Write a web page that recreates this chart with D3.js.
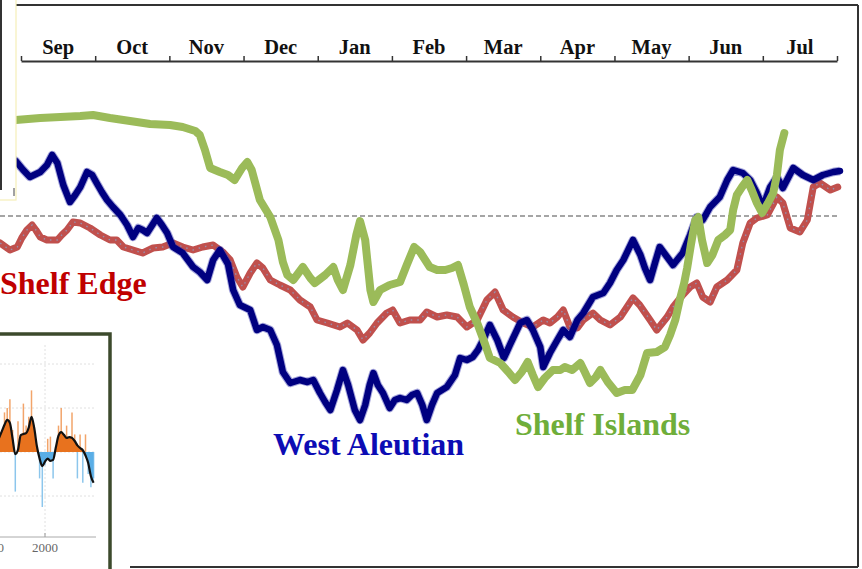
<!DOCTYPE html>
<html><head><meta charset="utf-8">
<script src="https://cdn.jsdelivr.net/npm/d3@7"></script>
<style>body{margin:0;background:#fff}svg{display:block}</style>
</head><body>
<svg id="c" width="862" height="569"></svg>
<script>
// ---- data (x in months since 1 Sep, y = anomaly units; 0 = dashed reference) ----
const months = ["Sep","Oct","Nov","Dec","Jan","Feb","Mar","Apr","May","Jun","Jul"];
const monthTicks = [0,1,2,3,4,5,6,7,8,9,10,11];
const seriesNames = ["Shelf Edge","West Aleutian","Shelf Islands"];

const shelfEdge = [[-0.28,-2.7],[-0.15,-3.4],[-0.05,-3.1],[0.01,-2.2],[0.08,-1.4],[0.15,-0.9],[0.20,-1.4],[0.26,-2.1],[0.35,-2.4],[0.49,-2.4],[0.55,-1.9],[0.62,-1.4],[0.70,-0.6],[0.80,-0.7],[0.93,-1.2],[1.07,-1.9],[1.20,-2.4],[1.29,-2.4],[1.38,-3.1],[1.51,-3.4],[1.64,-3.7],[1.78,-3.2],[1.91,-3.1],[2.05,-2.7],[2.18,-3.1],[2.32,-3.4],[2.45,-3.1],[2.59,-2.9],[2.72,-3.6],[2.82,-4.4],[2.91,-6.1],[2.99,-7.1],[3.09,-5.7],[3.18,-4.7],[3.26,-5.2],[3.36,-6.4],[3.49,-6.9],[3.63,-7.4],[3.76,-8.4],[3.90,-9.1],[3.99,-10.4],[4.13,-10.7],[4.30,-11.1],[4.40,-10.7],[4.53,-11.4],[4.61,-12.4],[4.70,-11.7],[4.80,-10.7],[4.93,-9.7],[5.01,-9.4],[5.11,-10.7],[5.24,-10.4],[5.38,-10.4],[5.47,-9.6],[5.61,-10.1],[5.74,-9.9],[5.88,-10.1],[6.01,-11.1],[6.15,-10.4],[6.28,-8.4],[6.39,-7.6],[6.50,-9.4],[6.63,-10.1],[6.77,-10.7],[6.90,-11.1],[7.04,-10.4],[7.13,-10.7],[7.23,-10.1],[7.31,-9.4],[7.40,-11.1],[7.50,-11.2],[7.58,-10.4],[7.71,-9.7],[7.81,-10.4],[7.94,-10.9],[8.08,-10.1],[8.25,-8.2],[8.34,-8.9],[8.48,-10.4],[8.57,-11.4],[8.71,-10.1],[8.79,-9.1],[8.92,-7.9],[9.02,-7.1],[9.11,-6.7],[9.19,-8.1],[9.29,-8.6],[9.38,-7.1],[9.52,-6.4],[9.65,-5.4],[9.73,-2.7],[9.83,-0.7],[9.92,-0.2],[10.06,0.1],[10.19,1.9],[10.27,1.3],[10.37,-1.2],[10.50,-1.6],[10.60,-0.4],[10.68,2.9],[10.77,3.3],[10.91,2.6],[11.01,2.9]];

const westAleutian = [[-0.28,6.4],[-0.07,5.5],[0.03,4.6],[0.12,3.9],[0.26,4.4],[0.35,5.1],[0.42,6.1],[0.49,5.3],[0.57,3.1],[0.66,1.4],[0.73,2.1],[0.80,2.9],[0.89,4.4],[0.96,4.1],[1.02,3.3],[1.09,2.4],[1.16,1.6],[1.24,0.9],[1.34,0.1],[1.43,-0.9],[1.51,-2.1],[1.58,-1.2],[1.64,-1.4],[1.70,-1.7],[1.77,-0.9],[1.83,-0.2],[1.90,-0.9],[1.97,-1.7],[2.05,-3.1],[2.18,-3.7],[2.32,-5.1],[2.41,-5.6],[2.51,-6.4],[2.59,-4.4],[2.68,-3.4],[2.79,-4.8],[2.86,-7.4],[2.95,-8.9],[3.09,-9.4],[3.18,-11.4],[3.26,-11.1],[3.36,-11.4],[3.45,-12.9],[3.53,-15.6],[3.63,-16.7],[3.76,-16.4],[3.86,-16.6],[3.94,-16.4],[4.03,-17.7],[4.10,-18.6],[4.17,-19.4],[4.26,-17.4],[4.34,-15.4],[4.41,-16.9],[4.50,-19.4],[4.57,-20.4],[4.64,-18.9],[4.70,-16.9],[4.75,-15.7],[4.81,-16.9],[4.88,-17.7],[4.97,-19.2],[5.04,-18.4],[5.11,-18.2],[5.20,-18.4],[5.27,-17.9],[5.34,-17.7],[5.41,-18.9],[5.47,-20.4],[5.54,-18.9],[5.61,-17.7],[5.74,-17.1],[5.85,-15.9],[5.92,-14.2],[6.01,-14.4],[6.09,-14.1],[6.16,-13.4],[6.23,-12.4],[6.32,-10.9],[6.42,-12.4],[6.51,-14.2],[6.59,-12.9],[6.73,-10.7],[6.82,-10.4],[6.90,-11.4],[7.00,-13.1],[7.04,-15.1],[7.13,-13.7],[7.23,-12.4],[7.31,-11.4],[7.40,-12.1],[7.50,-10.4],[7.58,-9.7],[7.71,-8.1],[7.85,-7.7],[7.94,-6.7],[8.03,-5.4],[8.12,-4.4],[8.25,-2.4],[8.35,-3.9],[8.41,-5.2],[8.48,-6.4],[8.55,-4.6],[8.61,-3.1],[8.71,-4.1],[8.79,-4.9],[8.92,-3.7],[9.02,-1.9],[9.11,-0.1],[9.19,-0.4],[9.29,0.9],[9.42,1.9],[9.52,3.6],[9.60,4.6],[9.73,4.3],[9.83,3.6],[9.92,2.3],[10.00,0.9],[10.10,2.9],[10.19,3.9],[10.27,2.8],[10.34,3.8],[10.41,4.8],[10.54,4.1],[10.68,3.6],[10.81,4.1],[10.95,4.4],[11.04,4.5]];

const shelfIslands = [[-0.28,9.7],[-0.07,9.6],[0.26,9.8],[0.53,9.9],[0.80,10.0],[0.97,10.1],[1.20,9.8],[1.47,9.5],[1.74,9.2],[2.01,9.1],[2.18,8.9],[2.35,8.5],[2.41,8.1],[2.48,6.6],[2.55,4.8],[2.68,4.4],[2.79,4.1],[2.88,3.6],[2.98,4.8],[3.05,5.4],[3.11,4.6],[3.22,1.6],[3.36,-0.1],[3.47,-2.4],[3.53,-4.6],[3.59,-5.9],[3.67,-6.4],[3.80,-5.1],[3.90,-6.2],[3.96,-6.7],[4.10,-5.9],[4.21,-5.1],[4.27,-6.4],[4.34,-7.4],[4.44,-4.9],[4.52,-1.9],[4.57,-0.5],[4.64,-2.4],[4.71,-7.4],[4.75,-8.6],[4.84,-7.4],[4.97,-6.9],[5.11,-6.6],[5.20,-4.9],[5.30,-3.1],[5.38,-3.6],[5.51,-5.1],[5.61,-5.4],[5.72,-5.4],[5.81,-5.2],[5.89,-4.9],[5.97,-6.9],[6.05,-9.1],[6.16,-10.9],[6.26,-12.9],[6.32,-14.2],[6.46,-14.7],[6.57,-15.6],[6.66,-16.4],[6.75,-15.6],[6.83,-14.6],[6.90,-15.9],[6.97,-17.1],[7.06,-16.2],[7.17,-15.4],[7.27,-15.4],[7.33,-15.1],[7.43,-15.4],[7.54,-14.7],[7.60,-15.6],[7.67,-16.7],[7.75,-16.1],[7.81,-15.4],[7.91,-16.6],[8.03,-17.7],[8.14,-17.4],[8.24,-17.4],[8.35,-15.9],[8.44,-13.7],[8.57,-13.6],[8.68,-13.1],[8.75,-11.9],[8.82,-10.4],[8.88,-8.4],[8.94,-6.7],[8.98,-5.2],[9.03,-2.9],[9.09,-0.4],[9.13,-0.1],[9.18,-2.4],[9.25,-4.7],[9.32,-3.9],[9.40,-2.4],[9.49,-1.9],[9.56,-1.4],[9.60,0.6],[9.65,2.1],[9.72,2.9],[9.79,3.6],[9.85,2.6],[9.92,1.3],[9.99,0.3],[10.07,1.3],[10.14,2.3],[10.19,4.1],[10.23,6.6],[10.29,8.3]];

// inset (annual index, half-year samples from 1991.5)
const insetStart = 1991.5;
const insetRaw = [-0.5,0.5,0.9,1.0,1.2,0.5,-0.9,0.7,0.4,1.1,0.6,0.8,1.4,0.6,0.1,-0.6,-1.25,-0.3,0.3,0.35,-0.6,0.1,0.6,1.0,0.4,0.6,0.3,0.9,0.4,-0.6,0.4,-0.7,0.4,-0.5,-0.8,-0.6];
const insetSmooth = [0.32,0.47,0.62,0.73,0.66,0.3,-0.05,0.05,0.38,0.41,0.43,0.56,0.8,0.55,0.13,-0.15,-0.32,-0.22,-0.15,-0.2,-0.18,0.1,0.37,0.45,0.39,0.32,0.34,0.32,0.25,0.15,0.09,0.04,-0.08,-0.25,-0.55,-0.7];
const insetYearTicks = [1990, 2000];
const insetGrid = [-1, 0, 1, 2];

// ---- drawing ----
const svg = d3.select("#c");
const serif = "'Liberation Serif','Times New Roman',serif";
const x = d3.scaleLinear().domain([0, 11]).range([21, 837]);
const y = d3.scaleLinear().domain([-35, 15]).range([566, 66]);

// frame
svg.append("line").attr("x1",16).attr("x2",858).attr("y1",5).attr("y2",5).attr("stroke","#333").attr("stroke-width",2);
svg.append("line").attr("x1",858).attr("x2",858).attr("y1",5).attr("y2",567).attr("stroke","#333").attr("stroke-width",2);
svg.append("line").attr("x1",130).attr("x2",858).attr("y1",567).attr("y2",567).attr("stroke","#333").attr("stroke-width",2);

// month axis
const axis = svg.append("g").attr("transform","translate(0,61)")
  .call(d3.axisTop(x).tickValues(monthTicks).tickSize(5).tickSizeOuter(0).tickFormat(""));
axis.select(".domain").attr("stroke","#333").attr("stroke-width",2);
axis.selectAll(".tick line").attr("stroke","#333").attr("stroke-width",1.5);
svg.append("g").selectAll("text").data(months).join("text")
  .attr("x",(d,i)=>x(i+0.5)).attr("y",54).attr("text-anchor","middle")
  .attr("font-family",serif).attr("font-weight","bold").attr("font-size",20.5)
  .attr("fill","#111").text(d=>d);

// reference dashed line
svg.append("line").attr("x1",0).attr("x2",x(11)).attr("y1",y(0)).attr("y2",y(0))
  .attr("stroke","#888").attr("stroke-width",1.3).attr("stroke-dasharray","5,3");

const line = d3.line().x(d=>x(d[0])).y(d=>y(d[1]));
// Shelf Edge (red)
svg.append("path").datum(shelfEdge).attr("d",line).attr("fill","none")
  .attr("stroke","#c0504d").attr("stroke-width",7).attr("stroke-linejoin","round").attr("stroke-linecap","round");
svg.append("path").datum(shelfEdge).attr("d",line).attr("fill","none")
  .attr("stroke","#8c9fc4").attr("stroke-width",1.4).attr("stroke-dasharray","1.5,5").attr("opacity",0.8);
// West Aleutian (blue)
svg.append("path").datum(westAleutian).attr("d",line).attr("fill","none")
  .attr("stroke","#3a3ab0").attr("stroke-width",8.5).attr("stroke-linejoin","round").attr("opacity",0.45);
svg.append("path").datum(westAleutian).attr("d",line).attr("fill","none")
  .attr("stroke","#000080").attr("stroke-width",6.5).attr("stroke-linejoin","round").attr("stroke-linecap","round");
// Shelf Islands (green)
svg.append("path").datum(shelfIslands).attr("d",line).attr("fill","none")
  .attr("stroke","#9bbb59").attr("stroke-width",8).attr("stroke-linejoin","round").attr("stroke-linecap","round");

// series labels
const labels = [
  {t:seriesNames[0], x:0, y:294, c:"#c00000"},
  {t:seriesNames[1], x:273, y:455, c:"#0c0cb4"},
  {t:seriesNames[2], x:515, y:435, c:"#6fae3a"}
];
svg.append("g").selectAll("text").data(labels).join("text")
  .attr("x",d=>d.x).attr("y",d=>d.y).attr("fill",d=>d.c)
  .attr("font-family",serif).attr("font-weight","bold").attr("font-size",32).text(d=>d.t);

// top-left overlapping panel
svg.append("rect").attr("x",-10).attr("y",-10).attr("width",26).attr("height",210)
  .attr("fill","#fff").attr("stroke","#f6efb8").attr("stroke-width",1.2);
svg.append("line").attr("x1",1).attr("x2",1).attr("y1",0).attr("y2",190).attr("stroke","#333").attr("stroke-width",2);
svg.append("line").attr("x1",14).attr("x2",14).attr("y1",188).attr("y2",196).attr("stroke","#444").attr("stroke-width",1);

// inset panel
const ins = svg.append("g");
ins.append("rect").attr("x",-10).attr("y",334).attr("width",120).attr("height",250)
  .attr("fill","#fff").attr("stroke","#3c4a2c").attr("stroke-width",3.5);
const ix = d3.scaleLinear().domain([1990, 2010]).range([-9, 99]);
const iy = d3.scaleLinear().domain([-2, 3]).range([540, 320]);
ins.append("g").selectAll("line").data(insetGrid).join("line")
  .attr("x1",0).attr("x2",96).attr("y1",d=>iy(d)).attr("y2",d=>iy(d))
  .attr("stroke","#d8d8d8").attr("stroke-width",0.8).attr("stroke-dasharray","2,2");
ins.append("line").attr("x1",ix(2000)).attr("x2",ix(2000)).attr("y1",345).attr("y2",536)
  .attr("stroke","#d8d8d8").attr("stroke-width",0.8).attr("stroke-dasharray","2,2");
ins.append("line").attr("x1",0).attr("x2",96).attr("y1",537).attr("y2",537).attr("stroke","#aaa").attr("stroke-width",1);
ins.append("line").attr("x1",ix(2000)).attr("x2",ix(2000)).attr("y1",533).attr("y2",537).attr("stroke","#999");
const iData = insetRaw.map((v,i)=>({t:insetStart+i*0.5, raw:v, sm:insetSmooth[i]}));
// raw spikes
ins.append("g").selectAll("line").data(iData).join("line")
  .attr("x1",d=>ix(d.t)).attr("x2",d=>ix(d.t)).attr("y1",iy(0)).attr("y2",d=>iy(d.raw))
  .attr("stroke",d=>d.raw>=0?"#f2a46a":"#8cc6ec").attr("stroke-width",1.5);
// smoothed fill above / below zero
const defs = svg.append("defs");
defs.append("clipPath").attr("id","above").append("rect").attr("x",-10).attr("y",320).attr("width",130).attr("height",iy(0)-320);
defs.append("clipPath").attr("id","below").append("rect").attr("x",-10).attr("y",iy(0)).attr("width",130).attr("height",100);
const iarea = d3.area().x(d=>ix(d.t)).y0(iy(0)).y1(d=>iy(d.sm)).curve(d3.curveMonotoneX);
ins.append("path").datum(iData).attr("d",iarea).attr("fill","#e8721e").attr("clip-path","url(#above)");
ins.append("path").datum(iData).attr("d",iarea).attr("fill","#5aaee6").attr("clip-path","url(#below)");
ins.append("path").datum(iData).attr("d",d3.line().x(d=>ix(d.t)).y(d=>iy(d.sm)).curve(d3.curveMonotoneX))
  .attr("fill","none").attr("stroke","#111").attr("stroke-width",2.2);
ins.append("g").selectAll("text").data(insetYearTicks).join("text")
  .attr("x",d=>ix(d)).attr("y",552).attr("text-anchor","middle")
  .attr("font-family",serif).attr("font-size",13).attr("fill","#666").text(d=>d);
</script>
</body></html>
